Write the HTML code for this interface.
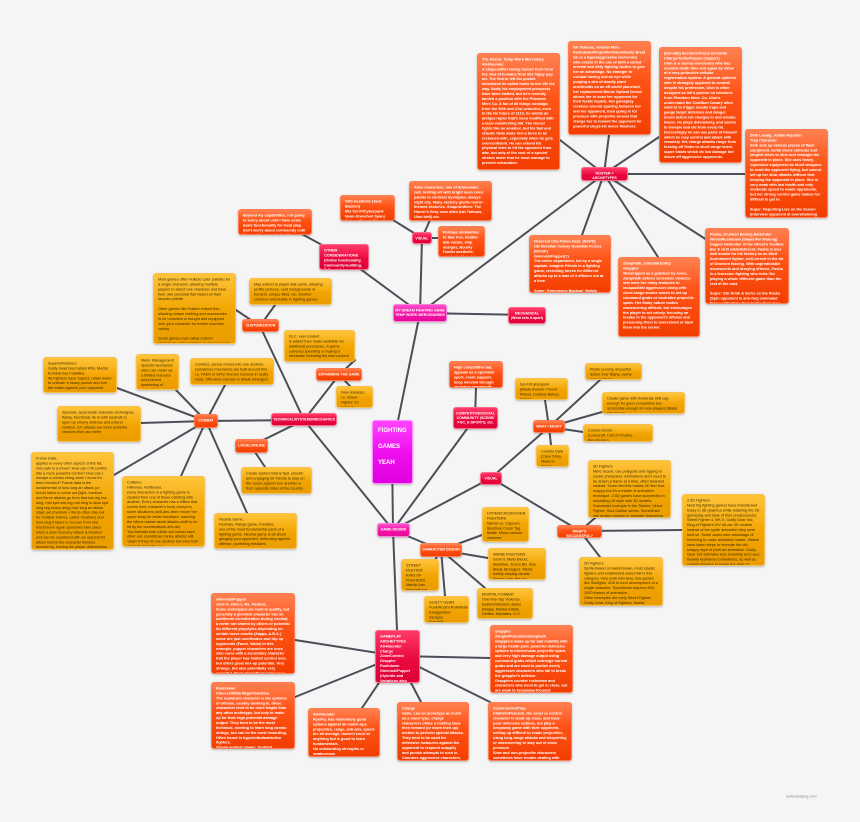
<!DOCTYPE html>
<html><head><meta charset="utf-8">
<style>
html,body{margin:0;padding:0;}
body{width:860px;height:822px;background:#f5f5f5;position:relative;overflow:hidden;font-family:"Liberation Sans",sans-serif;}
svg{position:absolute;left:0;top:0;}
.b{position:absolute;box-sizing:border-box;border-radius:3px;padding:3px 4px;overflow:hidden;font-weight:bold;box-shadow:0 1px 2px rgba(0,0,0,.25);}
.i{width:200%;transform:scale(.5);transform-origin:0 0;font-size:7.6px;line-height:1.3;}
.o{background:linear-gradient(#ffc43a,#f2a400 55%,#eb9c00);border:1px solid #f7c04a;color:#3a2a00;font-weight:normal;}
.r{background:linear-gradient(#ff8050,#ff5418 40%,#f23e00);border:1px solid #ff7d50;color:#fff;}
.k{background:linear-gradient(#ff3a66,#ea0a40 55%,#de0036);border:1px solid #ff6a8a;color:#fff;}
.p{background:linear-gradient(#ff4ecb,#f214a4 55%,#e80a98);border:1px solid #ff80d8;color:#fff;}
.t{padding:3px 1px 0 1px;}
.t .i{text-align:center;font-size:7.2px;line-height:1.25;}
.c{background:linear-gradient(#ff44ff,#ee10ee 50%,#e000e0);border:1px solid #ff8cff;color:#fff;font-size:6px;line-height:16px;padding:2px 5px;}
.wm{position:absolute;left:786px;top:794px;color:#888;}
</style></head><body>
<svg width="860" height="822" viewBox="0 0 860 822">
<g stroke="#4b4f58" stroke-width="2" fill="none" stroke-linecap="round">
<line x1="392" y1="450" x2="420" y2="313"/>
<line x1="392" y1="450" x2="393" y2="530"/>
<line x1="420" y1="313" x2="422" y2="238"/>
<line x1="420" y1="313" x2="344" y2="257"/>
<line x1="420" y1="313" x2="604" y2="174"/>
<line x1="420" y1="313" x2="527" y2="315"/>
<line x1="422" y1="238" x2="385" y2="215"/>
<line x1="422" y1="238" x2="430" y2="220"/>
<line x1="422" y1="238" x2="440" y2="238"/>
<line x1="344" y1="257" x2="300" y2="233"/>
<line x1="604" y1="174" x2="560" y2="140"/>
<line x1="604" y1="174" x2="609" y2="135"/>
<line x1="604" y1="174" x2="659" y2="137"/>
<line x1="604" y1="174" x2="745" y2="174"/>
<line x1="604" y1="174" x2="582" y2="235"/>
<line x1="604" y1="174" x2="658" y2="257"/>
<line x1="604" y1="174" x2="707" y2="240"/>
<line x1="304" y1="420" x2="393" y2="530"/>
<line x1="304" y1="420" x2="260" y2="326"/>
<line x1="304" y1="420" x2="339" y2="375"/>
<line x1="304" y1="420" x2="251" y2="446"/>
<line x1="304" y1="420" x2="206" y2="421"/>
<line x1="260" y1="326" x2="275" y2="305"/>
<line x1="260" y1="326" x2="236" y2="310"/>
<line x1="339" y1="375" x2="355" y2="360"/>
<line x1="339" y1="375" x2="350" y2="386"/>
<line x1="251" y1="446" x2="265" y2="467"/>
<line x1="206" y1="421" x2="117" y2="388"/>
<line x1="206" y1="421" x2="176" y2="390"/>
<line x1="206" y1="421" x2="225" y2="385"/>
<line x1="206" y1="421" x2="141" y2="423"/>
<line x1="206" y1="421" x2="114" y2="475"/>
<line x1="206" y1="421" x2="181" y2="476"/>
<line x1="206" y1="421" x2="247" y2="513"/>
<line x1="393" y1="530" x2="475" y2="418"/>
<line x1="475" y1="418" x2="476" y2="388"/>
<line x1="393" y1="530" x2="491" y2="478"/>
<line x1="491" y1="478" x2="549" y2="427"/>
<line x1="491" y1="478" x2="580" y2="531"/>
<line x1="549" y1="427" x2="545" y2="400"/>
<line x1="549" y1="427" x2="600" y2="380"/>
<line x1="549" y1="427" x2="602" y2="412"/>
<line x1="549" y1="427" x2="583" y2="432"/>
<line x1="549" y1="427" x2="551" y2="445"/>
<line x1="580" y1="531" x2="595" y2="518"/>
<line x1="580" y1="531" x2="682" y2="530"/>
<line x1="580" y1="531" x2="600" y2="557"/>
<line x1="393" y1="530" x2="441" y2="550"/>
<line x1="441" y1="550" x2="482" y2="535"/>
<line x1="441" y1="550" x2="488" y2="558"/>
<line x1="441" y1="550" x2="432" y2="565"/>
<line x1="441" y1="550" x2="445" y2="596"/>
<line x1="441" y1="550" x2="485" y2="588"/>
<line x1="393" y1="530" x2="397" y2="630"/>
<line x1="397" y1="656" x2="295" y2="640"/>
<line x1="397" y1="656" x2="295" y2="697"/>
<line x1="397" y1="656" x2="362" y2="708"/>
<line x1="397" y1="656" x2="421" y2="702"/>
<line x1="397" y1="656" x2="490" y2="702"/>
<line x1="397" y1="656" x2="490" y2="658"/>
</g>
</svg>

<div class="b r" style="left:477px;top:53px;width:83px;height:117px"><div class="i">The Horror, Temp Work Mercenary<br>All-Rounder<br>A shapeshifter taking human form from the idea of humans from 60s hippy pop art. The Horror left the pocket dimension he called home to live life his way. Sadly his employment prospects have been limited, but he's recently landed a position with the Phantom Merc Co. A fan of all things nostalgic from the 20th and 21st centuries, even in the far future of 2113, he wields an antique rapier that's been modified with a laser-manifesting hilt. The Horror fights like an amateur, but his fast and chaotic flails make him a force to be reckoned with, especially when he gets overconfident. He can extend his physical form to hit his opponent from afar, but only at the cost of a special stretch meter that he must manage to prevent exhaustion.<br><br>Super: Check Out All This Stuff I Found! (Antique Boss Blowout, items bounce and fly about from every direction depending on player input)</div></div>
<div class="b r" style="left:568px;top:41px;width:83px;height:94px"><div class="i">Ish Tarkous, Veteran Merc<br>Rushdown/Projectile/Venom/Early Brest<br>Ish is a hyperaggressive mercenary who excels in the use of both a varied arsenal and dirty fighting tactics to give her an advantage. No stranger to combat having lost an eye while purging a den of deadly plant arachnoids on an off-world planetoid, her replacement Bionic Optical Device allows her to scan her opponent for their feeble liquids. Her gameplay revolves around spacing between her and her opponent, then going in for pressure with projectile arrows that charge her to toward the opponent for powerful single-hit melee finishers.<br><br>Super: Plasma Rifle Showcase (Ish unloads three differently powered plasma rifles into the opponent in quick fashion.)</div></div>
<div class="b r" style="left:659px;top:47px;width:83px;height:116px"><div class="i">(Non-Idd) Accident-Prone Immortal<br>Charge/Turtle/Puppet (Zappo?)<br>Ulon is a clumsy mercenary who has cheated death time and again by virtue of a very protective cellular regeneration system. A general optimist who is strangely opposed to combat despite his profession, Ulon is often assigned as Ish's partner on missions from Phantom Merc. Co. Ulon's understand the Coalition Canary often want to to trigger deadly traps and gauge target defenses and danger levels before Ish charges in and wreaks havoc. He plays defensively, and seems to trample and die from every hit. Interestingly he can use parts of himself which he may control and attack with remotely. His charge attacks range from tossing off limbs to short-range burst-super blasts which do low damage but shove off aggressive opponents.<br><br>Super: Hyperactive Regeneration (Ulon aggressively regenerates Tetsuo-style and pushes the opponent against the edge of the screen.</div></div>
<div class="b r" style="left:745px;top:129px;width:83px;height:89px"><div class="i">Seth Lasaig, Jellian Reporter<br>Trap Character<br>Seth sets up various pieces of flash equipment, aerial drone cameras and tangled wires to stun and entangle the opponent in place. She uses heavy, expensive equipment as blunt weapons to send the opponent flying, but cannot set up her slow attacks without first keeping the opponent in place. She is very weak with low health and only moderate speed to evade opponents, but her strong control game makes her difficult to get in.<br><br>Super: Reporting Live on the Scene! (Interview opponent at overwhelming speed, during them with myriad of lights before sending them flying into the screen and cracking it temporarily)</div></div>
<div class="b k t" style="left:581px;top:167px;width:47px;height:14px"><div class="i">ROSTER + ARCHETYPES</div></div>
<div class="b r" style="left:529px;top:235px;width:82px;height:58px"><div class="i">Neocrest City Police Dept. (NCPD)<br>OB Meridian Colony Guardian Forces (MCGF)<br>Gimmick/Puppet(?)<br>The entire department, led by a single captain. Imagine Pikmin in a fighting game, recruiting forces for different attacks up to a max of 4 officers out at a time.<br><br>Super: Emergency Backup! (Safely changes in a crowd of agents, moving out the on-field agents regardless of their previous total.)</div></div>
<div class="b r" style="left:618px;top:257px;width:82px;height:80px"><div class="i">Zaraphath, Celestial Entity<br>Grappler<br>Worshipped as a goddess by some, Zaraphath abhors senseless violence and uses her many tentacles to incapacitate aggressors along with close-range arcane waves to set up command grabs or neutralize projectile spam. Her floaty nature makes maneuvering difficult, but encourages the player to act calmly, focusing on breaks in the opponent's offense and pressuring them to overextend or back them into the corner.<br><br>Super: Infinite Transmutation (Grapples & damages opponent with cosmic waves to scramble their brain)</div></div>
<div class="b r" style="left:705px;top:228px;width:84px;height:76px"><div class="i">Pasha, Drunken Boxing Bartender<br>Weird/Rushdown (Slayer/Fei Wulong)<br>Dapper bartender of the Ghost's Toolbox Bar & Grill establishment, Pasha is less well known for his history as an illicit tournament fighter, well-versed in the art of Drunken Boxing. With unpredictable movements and dizzying offense, Pasha is a fearsome fighting who feels like playing a whole different game than the rest of the cast.<br><br>Super: Stir Drink & Serve on the Rocks (Spin opponent in arm-hug command throw until dizzy, then tackle them face-first into the ground)</div></div>

<div class="b k t" style="left:412px;top:232px;width:20px;height:12px"><div class="i">VISUAL</div></div>
<div class="b r" style="left:340px;top:195px;width:55px;height:26px"><div class="i">VHS Aesthetic (Jack Bauden)<br>80s Sci-Fi/Cyberpunk<br>Neon-Drenched Space Colony (Punch Planet)</div></div>
<div class="b r" style="left:409px;top:181px;width:83px;height:40px"><div class="i">Alien characters, mix of futurematic cult, inviting art with bright neon color palette to contrast dystopian, always-night city. Many sketchy ghetto horror-themed sketches. Shapeshifters: The Horror's Grey ooze alien (Ish Tarkous, Ulon Idell) etc.</div></div>
<div class="b r" style="left:438px;top:226px;width:47px;height:31px"><div class="i">Perhaps similarities to Star Fox, bobble-talk vocals, ship designs, Bounty Hunter aesthetic, similar to Metroid as well</div></div>
<div class="b r" style="left:238px;top:209px;width:74px;height:26px"><div class="i">Beyond my capabilities, not going to worry about until I have some basic functionality for local play, don't worry about community until I have a fun game to build one from.</div></div>
<div class="b k" style="left:319px;top:244px;width:50px;height:26px"><div class="i">OTHER CONSIDERATIONS<br>(Online functionality, Community-building, E-Sports)</div></div>
<div class="b p t" style="left:393px;top:304px;width:54px;height:18px"><div class="i">MY DREAM FIGHTING GAME<br>TEMP WORK MERCENARIES</div></div>
<div class="b k t" style="left:508px;top:307px;width:38px;height:17px"><div class="i">MECHANICAL<br>(What sets it apart)</div></div>

<div class="b o" style="left:153px;top:273px;width:83px;height:71px"><div class="i">Most games offer multiple color palettes for a single character, allowing multiple players to select one character and have their own personal flair based on their favorite palette.<br><br>Other games like Tekken extend this, allowing unique clothing and accessories to be unlocked or bought and equipped onto your character for further cosmetic variety.<br><br>Some games even allow custom characters, using existing or unique moves from a pool they can select, i.e. Soul Calibur 5, Super Smash Bros.</div></div>
<div class="b o" style="left:249px;top:278px;width:83px;height:27px"><div class="i">May extend to player stat cards, allowing profile pictures, card backgrounds or borders, unique titles, etc. Another common unlockable in fighting games</div></div>
<div class="b r t" style="left:242px;top:319px;width:37px;height:13px"><div class="i">CUSTOMIZATION</div></div>
<div class="b o" style="left:284px;top:330px;width:71px;height:32px"><div class="i">DLC, new content<br>is added then made available for additional purchases, in-game currency spending or buying a rerelease including the new content</div></div>
<div class="b r t" style="left:316px;top:368px;width:46px;height:13px"><div class="i">EXPANDING THE GAME</div></div>
<div class="b o" style="left:336px;top:386px;width:37px;height:22px"><div class="i">New releases, i.e. Street Fighter 2's various rereleases</div></div>
<div class="b k t" style="left:271px;top:413px;width:66px;height:13px"><div class="i">TECHNICAL/SYSTEMS/MECHANICS</div></div>
<div class="b r t" style="left:235px;top:439px;width:33px;height:14px"><div class="i">LOCAL/ONLINE</div></div>
<div class="b o" style="left:241px;top:467px;width:71px;height:27px"><div class="i">Create system that is fast, smooth and engaging for friends to play on the couch against one another or from opposite sides of the country</div></div>

<div class="b o" style="left:43px;top:357px;width:74px;height:36px"><div class="i">Supers/Finishers<br>Guilty Gear has Instant Kills, Mortal Kombat has Fatalities<br>All Fighters have Supers, retain meter to unleash a heavy punish and turn the match against your opponent</div></div>
<div class="b o" style="left:136px;top:354px;width:43px;height:36px"><div class="i">Meter Management<br>Special mechanics often use meter as a limited resource and prevent spamming of powerful moves</div></div>
<div class="b o" style="left:190px;top:358px;width:84px;height:27px"><div class="i">Combos, cancel moves into one another, sometimes mechanics are built around this i.e. FADC in SFIV, Roman Cancels in Guilty Gear, Offensive Cancels in Blade Strangers</div></div>
<div class="b r t" style="left:194px;top:414px;width:24px;height:14px"><div class="i">COMBAT</div></div>
<div class="b o" style="left:57px;top:406px;width:84px;height:36px"><div class="i">Specials, accentuate character archetypes, flashy, functional, tie in with neutrals to open up enemy defense and extend combos. EX attacks are more powerful versions that use meter</div></div>
<div class="b o" style="left:31px;top:452px;width:83px;height:98px"><div class="i">Frame Data,<br>applies to every other aspect of this list, how safe is a move? How can I hit confirm into a more powerful combo? How can I escape a combo string when I know it's been blocked? Frame data is the fundamental of how long an attack (or block) takes to come out (light, medium and fierce attacks go from fast low reg low dmg, mid spd mid reg mid dmg to slow spd long reg heavy dmg) how long an attack stays out (medium + fierce often stay out for multiple frames, called 'meaties') and how long it takes to recover from and block/move again (punishes take place when a slow recovery attack is blocked and can be countered with an opponent's attack before the character finishes recovering, leaving the player defenseless against retaliation/counterattack.)<br>(This was a terrible explanation)</div></div>
<div class="b o" style="left:122px;top:476px;width:83px;height:71px"><div class="i">Collision,<br>Hitboxes, Hurtboxes,<br>every interaction in a fighting game is created from one of these colliding with another. Every character has a hitbox that covers their character's body except in some situations (anti-airs often 'move' the upper body for better feedback, lowering the hitbox makes aerial attacks whiff to be hit by the counterattack anti-air).<br>Two fireballs that collide will cancel each other out, sometimes melee attacks will 'clash' if they hit one another but miss both characters' hurtboxes.</div></div>
<div class="b o" style="left:214px;top:513px;width:83px;height:36px"><div class="i">Neutral Game,<br>Normals, Range game, Footsies,<br>one of the most fundamental parts of a fighting game. Neutral game is all about gauging your opponent, defending against offense, punishing mistakes</div></div>

<div class="b c" style="left:372px;top:420px;width:41px;height:64px">FIGHTING<br>GAMES<br>YEAH</div>

<div class="b r" style="left:449px;top:361px;width:54px;height:27px"><div class="i">High competitive bar, appeals as a spectator sport, event support, keep relevant through engaging community</div></div>
<div class="b k t" style="left:453px;top:407px;width:45px;height:22px"><div class="i">COMPETITIVE/SOCIAL COMMUNITY (SCENE/ FGC, E-SPORTS, etc.</div></div>

<div class="b o" style="left:515px;top:378px;width:53px;height:22px"><div class="i">Sci-Fi/Cyberpunk<br>(Blade Runner, Punch Planet, Cowboy Bebop, Kolos)</div></div>
<div class="b o" style="left:585px;top:363px;width:57px;height:17px"><div class="i">Prefer punchy, impactful action over flashy, overly long combos</div></div>
<div class="b o" style="left:602px;top:392px;width:83px;height:22px"><div class="i">Create game with moderate skill cap, enough for good competition but accessible enough for new players (Blade Strangers)</div></div>
<div class="b r t" style="left:533px;top:420px;width:32px;height:13px"><div class="i">WHAT I ENJOY</div></div>
<div class="b o" style="left:583px;top:424px;width:70px;height:18px"><div class="i">Cosmic Horror<br>(Lovecraft, Call of Cthulhu, Bloodborne)</div></div>
<div class="b o" style="left:536px;top:445px;width:33px;height:22px"><div class="i">Colorful Dark<br>(Cave Story, Made in Abyss)</div></div>
<div class="b k t" style="left:480px;top:472px;width:22px;height:13px"><div class="i">VISUAL</div></div>

<div class="b o" style="left:588px;top:460px;width:83px;height:58px"><div class="i">3D Fighters<br>More recent, use polygons and rigging to create characters. Animations don't need to be drawn a frame at a time, often tweened instead. Some feel this makes 3D feel less snappy but it's a matter of animation technique. 2.5D games have succeeded in emulating 2D style with 3D models.<br>Successful example in the Tekken, Virtua Fighter, Soul Calibur series. Sometimes use motion capture to animate characters.</div></div>
<div class="b o" style="left:682px;top:494px;width:83px;height:72px"><div class="i">2.5D Fighters<br>Most big fighting games have transitioned today to 3D graphics while retaining the 2D gameplay and style of their predecessors. Street Fighter 4, MK 9, Guilty Gear Xrd, King of Fighters XIV all use 3D models instead of the sprite animation they were built on. Some cases take advantage of tweening to make animation easier. Others have taken steps to recreate the old, snappy style of pixel art animation. Guilty Gear Xrd animates less smoothly and uses heavily keyframed animations, as well as custom shaders to evoke the style of previous 2D entries.</div></div>
<div class="b r t" style="left:557px;top:525px;width:45px;height:13px"><div class="i">WHAT'S SUCCESSFUL?</div></div>
<div class="b o" style="left:579px;top:557px;width:84px;height:49px"><div class="i">2D Fighters<br>Sprite-based or Hand-Drawn, most classic fighters and established series fall in this category. Very work-intensive, few games like Skullgirls, 2D8 to fund development of a single character. Sometimes requires 500-1000 frames of animation.<br>Other examples are early Street Fighter, Guilty Gear, King of Fighters, Mortal Kombat</div></div>

<div class="b p t" style="left:377px;top:523px;width:33px;height:14px"><div class="i">GAME DESIGN</div></div>
<div class="b o" style="left:482px;top:507px;width:47px;height:35px"><div class="i">HYPER/CROSSOVER FIGHTERS<br>Marvel vs. Capcom, BlazBlue Cross Tag Battle. Mixes various universe representation.</div></div>
<div class="b r t" style="left:420px;top:543px;width:42px;height:14px"><div class="i">CHARACTER DESIGN</div></div>
<div class="b o" style="left:488px;top:548px;width:58px;height:32px"><div class="i">ANIME FIGHTERS<br>GGXrd, Melty Blood, BlazBlue, JoJo's Biz. Adv, Blade Strangers. Weird, widely varying visuals. Always over-the-top</div></div>
<div class="b o" style="left:401px;top:559px;width:38px;height:32px"><div class="i">STREET FIGHTER<br>KING OF FIGHTERS<br>Martial Arts<br>International Representation</div></div>
<div class="b o" style="left:424px;top:596px;width:45px;height:27px"><div class="i">GUILTY GEAR<br>Punk/Rock'n'Roll/Metal<br>Exaggerated Designs<br>Futuristic</div></div>
<div class="b o" style="left:477px;top:588px;width:56px;height:31px"><div class="i">MORTAL KOMBAT<br>Over-the-Top Violence<br>Eastern/Western styles (Ninjas, Martial Artists, Deities, Monsters, U.S. Agents)</div></div>

<div class="b r" style="left:211px;top:593px;width:84px;height:81px"><div class="i">Gimmick/Puppet<br>Jack-O, Zato-1, Ms. Fortune,<br>Some archetypes are hard to qualify, but generally a gimmick character has an additional consideration during combat, a meter not shared by others or potential for different playstyles depending on certain move results (Zappa, A.B.A.) some are just unorthodox and trip up opponents (Faust, Valdo) in this example, puppet characters are ones who come with a secondary character that the player has limited control over, but offers great mix-up potential. Very strange, but also potentially very powerful. Their strengths/weaknesses vary, and often dip into other archetypes to round out their playstyle.</div></div>
<div class="b k" style="left:375px;top:630px;width:45px;height:53px"><div class="i">GAMEPLAY ARCHETYPES<br>All-Rounder<br>Charge<br>Zone/Control<br>Grappler<br>Rushdown<br>Gimmick/Puppet<br>(Hybrids and Variations also exist)</div></div>
<div class="b r" style="left:490px;top:625px;width:83px;height:68px"><div class="i">Grappler<br>Zangief/Potemkin/Zaraphath<br>Grapplers make up for bad mobility with a large health pool, powerful defensive options to block/evade projectile spam, and very high damage output using command grabs which outrange normal grabs and are used to punish overly aggressive characters who fail to break the grappler's defense.<br>Grapplers counter rushdown and characters who need to get in close, but are weak to keepaway-focused characters who can chip them out</div></div>
<div class="b r" style="left:211px;top:682px;width:84px;height:67px"><div class="i">Rushdown<br>Chun-Li/Millia Rage/Valentine,<br>The rushdown character is the epitome of offense, usually dashing in, these characters tend to be more fragile than any other archetype, but only to make up for their high potential damage output. They tend to be the most technical, needing to learn long combo strings, but can be the most rewarding. Often found in hyper/ultrafast/active fighters.<br>Strong against slower, hesitant opponents but weak against strong defense and high damage output.</div></div>
<div class="b r" style="left:308px;top:708px;width:72px;height:49px"><div class="i">All-Rounder<br>Ryu/Ky, has moderately good options against all match-ups.<br>projectiles, range, anti-airs, speed are all average, doesn't excel at anything but is good to learn fundamentals.<br>No outstanding strengths or weaknesses</div></div>
<div class="b r" style="left:397px;top:702px;width:72px;height:59px"><div class="i">Charge<br>Guile, Leo an archetype as much as a move type, charge characters utilize a holding back then forward (or down then up) motion to perform special attacks. They tend to be used for defensive measures against the opponent to respond snappily and punish attempts to rush in.<br>Counters aggressive characters, possibly weak against grapplers</div></div>
<div class="b r" style="left:488px;top:702px;width:84px;height:59px"><div class="i">Zone/Control/Trap<br>Dhalsim/Peacock, the zoner or control character is weak up close, and have poor defensive options, but play a keepaway game with their opponent, setting up difficult to evade projectiles, using long-range attacks and teleporting or maneuvering to stay out of close pressure.<br>Slow and non-projectile characters sometimes have trouble dealing with zoning.<br>Counters grapplers, weak against rushdown</div></div>

<div class="wm"><div class="i" style="color:#888">www.kindpng.com</div></div>
</body></html>
